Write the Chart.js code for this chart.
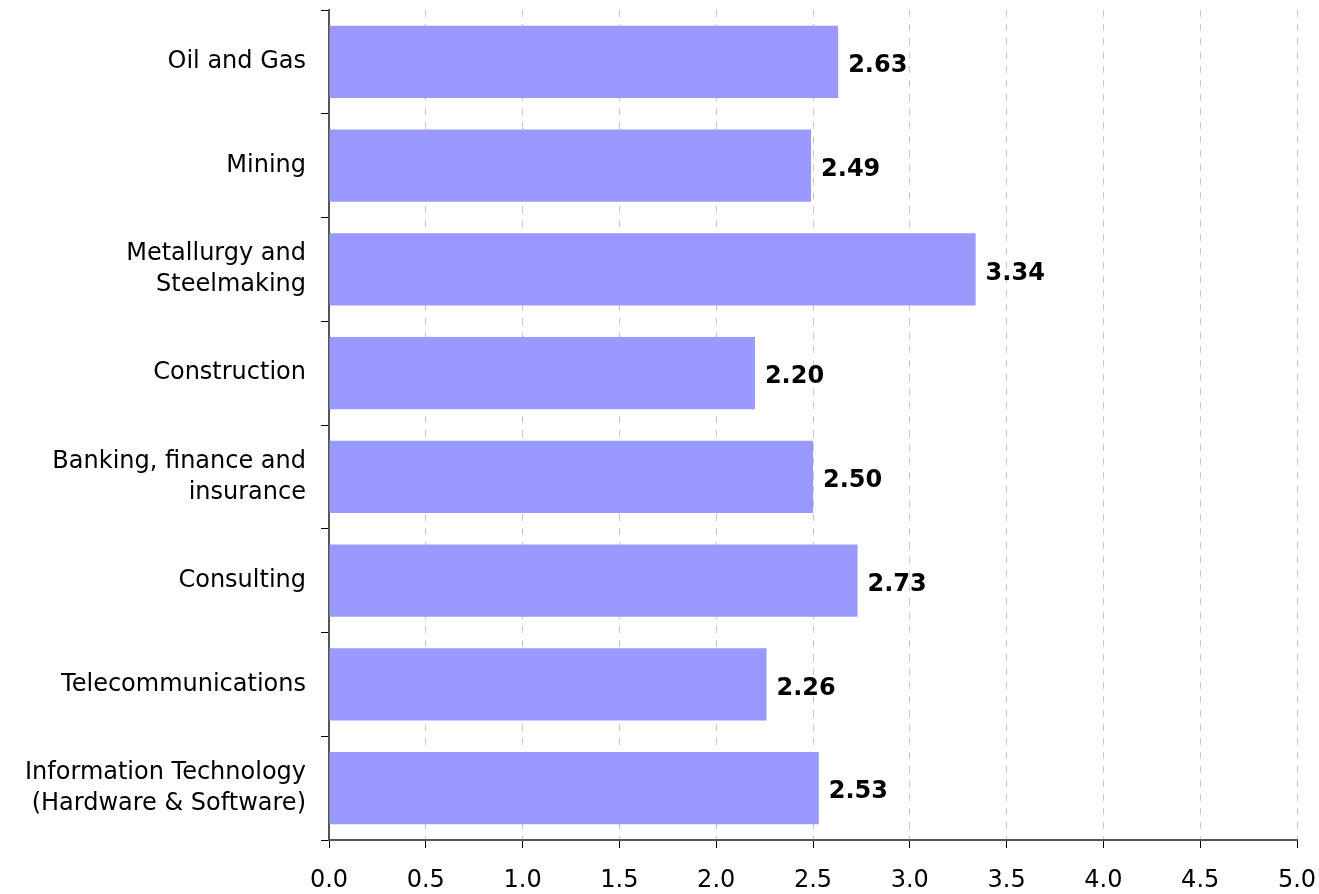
<!DOCTYPE html>
<html lang="en">
<head>
    <meta charset="utf-8" />
    <title>Industry scores</title>
    <script src="https://cdn.jsdelivr.net/npm/chart.js@4"></script>
    <style>
        html, body { margin: 0; padding: 0; background: #fff; }
        #wrap { width: 1319px; height: 894px; }
    </style>
</head>
<body>
    <div id="wrap"><canvas id="chart"></canvas></div>
<script>
    const industries = [
        'Oil and Gas',
        'Mining',
        ['Metallurgy and', 'Steelmaking'],
        'Construction',
        ['Banking, finance and', 'insurance'],
        'Consulting',
        'Telecommunications',
        ['Information Technology', '(Hardware & Software)']
    ];
    const scores = [2.63, 2.49, 3.34, 2.20, 2.50, 2.73, 2.26, 2.53];
    const xMin = 0;
    const xMax = 5;
    const xStep = 0.5;

    const FONT = '"DejaVu Sans", Verdana, sans-serif';

    // bold numbers just right of each bar
    const valueLabels = {
        id: 'valueLabels',
        afterDatasetsDraw(chart) {
            const ctx = chart.ctx;
            const meta = chart.getDatasetMeta(0);
            ctx.save();
            ctx.font = 'bold 24px ' + FONT;
            ctx.fillStyle = '#000';
            ctx.textAlign = 'left';
            ctx.textBaseline = 'middle';
            meta.data.forEach((bar, i) => {
                ctx.fillText(scores[i].toFixed(2), bar.x + 10, bar.y + 4);
            });
            ctx.restore();
        }
    };

    new Chart(document.getElementById('chart'), {
        type: 'bar',
        data: {
            labels: industries,
            datasets: [{
                data: scores,
                backgroundColor: '#9999ff',
                borderWidth: 0,
                categoryPercentage: 1,
                barPercentage: 0.694
            }]
        },
        options: {
            indexAxis: 'y',
            responsive: true,
            maintainAspectRatio: false,
            animation: false,
            layout: { padding: { left: 0, right: 22, top: 10, bottom: 0 } },
            plugins: {
                legend: { display: false },
                tooltip: { enabled: false }
            },
            scales: {
                x: {
                    min: xMin,
                    max: xMax,
                    ticks: {
                        stepSize: xStep,
                        color: '#000',
                        font: { family: FONT, size: 24 },
                        padding: 18,
                        maxRotation: 0,
                        callback: v => v.toFixed(1)
                    },
                    grid: {
                        color: '#c8c8c8',
                        lineWidth: 1,
                        tickLength: 8,
                        tickColor: '#000',
                        tickBorderDash: []
                    },
                    border: { color: '#555', width: 2, dash: [7, 7] },
                    afterFit: s => {
                        s.height = 54;
                        s.paddingLeft = 0;
                        s.paddingRight = 0;
                    }
                },
                y: {
                    ticks: {
                        color: '#000',
                        font: { family: FONT, size: 24, lineHeight: 1.3 },
                        padding: 15
                    },
                    grid: {
                        offset: true,
                        drawOnChartArea: false,
                        tickLength: 8,
                        tickColor: '#000'
                    },
                    border: { color: '#555', width: 2 },
                    afterFit: s => {
                        s.width = 329;
                        s.paddingTop = 0;
                        s.paddingBottom = 0;
                    }
                }
            }
        },
        plugins: [valueLabels]
    });
</script>
</body>
</html>
